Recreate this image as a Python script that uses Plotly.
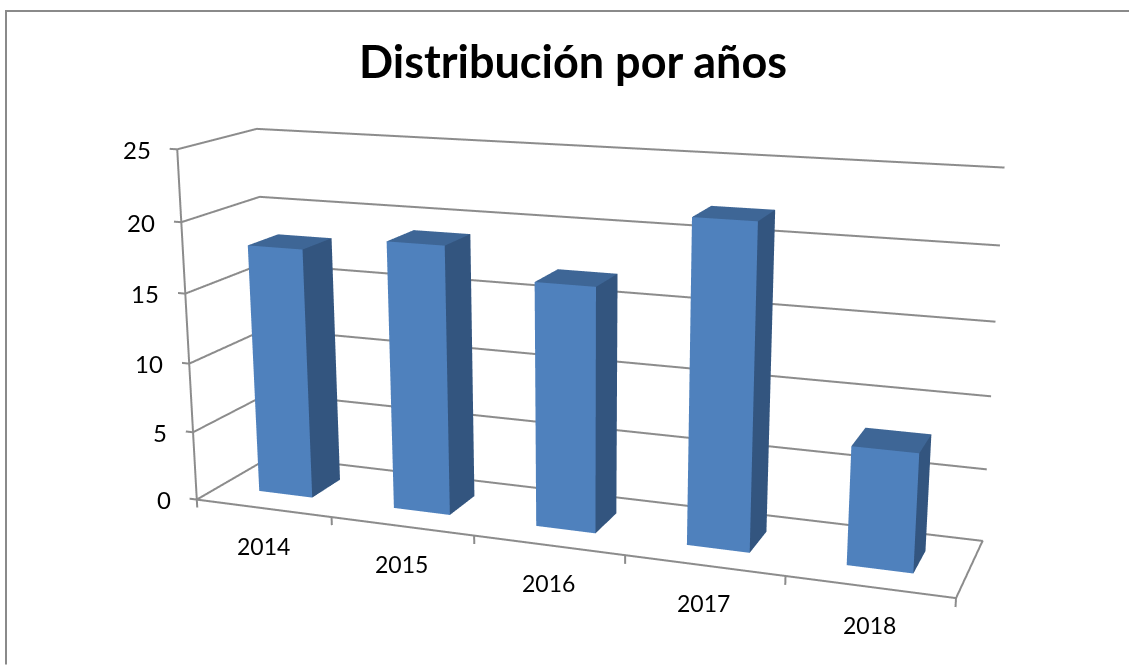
import plotly.graph_objects as go

# --- data ---
years = ["2014", "2015", "2016", "2017", "2018"]
counts = [18, 19, 17, 22, 8]
z_ticks = [0, 5, 10, 15, 20, 25]
title_text = "Distribución por años"

# --- style ---
FRONT, SIDE, TOP = "#4F81BD", "#33557F", "#3E6696"
GRID = "#8C8C8C"
FONT = "Lato"
BAR_LO, BAR_HI = 0.30, 0.70   # bar extent inside a category / depth slot
X_TICK_LEN, Z_TICK_LEN = 0.6, 0.055   # tick lengths in axis units

# Excel's 3-D view has a long lens; plotly's field of view is fixed, so the scene
# viewport is made taller than the window and the graph div is offset in the page.
FIG_W, FIG_H = 1129, 1561.3
PAGE_TOP = -409.6
def py(v):  # window pixel row -> paper fraction
    return 1 - (v - PAGE_TOP) / FIG_H
def px(v):
    return v / FIG_W

# --- bars as one mesh ---
xs, ys, zs, I, J, K, fc = [], [], [], [], [], [], []
def quad(a, b, c, d, col):
    n = len(xs)
    for p in (a, b, c, d):
        xs.append(p[0]); ys.append(p[1]); zs.append(p[2])
    I.extend([n, n]); J.extend([n + 1, n + 2]); K.extend([n + 2, n + 3]); fc.extend([col, col])
for idx, h in enumerate(counts):
    x0, x1 = idx + BAR_LO, idx + BAR_HI
    y0, y1 = BAR_LO, BAR_HI
    quad((x0, y0, 0), (x1, y0, 0), (x1, y0, h), (x0, y0, h), FRONT)
    quad((x1, y0, 0), (x1, y1, 0), (x1, y1, h), (x1, y0, h), SIDE)
    quad((x0, y0, h), (x1, y0, h), (x1, y1, h), (x0, y1, h), TOP)

fig = go.Figure()

# frame: floor outline, front-left edge, gridlines on the two walls, tick marks
n = len(years)
top = max(z_ticks)
lx, ly, lz = [0, n, n, 0, 0, None, 0, 0, None], [0, 0, 1, 1, 0, None, 0, 0, None], [0, 0, 0, 0, 0, None, 0, top, None]
for v in z_ticks[1:]:
    lx += [-Z_TICK_LEN, 0, 0, n, None]; ly += [0, 0, 1, 1, None]; lz += [v, v, v, v, None]
lx += [-Z_TICK_LEN, 0, None]; ly += [0, 0, None]; lz += [0, 0, None]
for i in range(n + 1):
    lx += [i, i, None]; ly += [0, 0, None]; lz += [0, -X_TICK_LEN, None]
fig.add_trace(go.Scatter3d(x=lx, y=ly, z=lz, mode="lines", line=dict(color=GRID, width=4),
                           hoverinfo="skip", showlegend=False))
fig.add_trace(go.Mesh3d(x=xs, y=ys, z=zs, i=I, j=J, k=K, facecolor=fc, flatshading=True,
                        lighting=dict(ambient=1, diffuse=0, specular=0, roughness=1, fresnel=0),
                        hoverinfo="skip", showscale=False))

axis_common = dict(showbackground=False, showspikes=False, zeroline=False, showline=False,
                   title="", showticklabels=False, showgrid=False, ticks="")

annotations = []
for v in z_ticks:
    annotations.append(dict(x=0, y=0, z=v, text=str(v), showarrow=False, xanchor="right",
                            xshift=-24, yshift=0, font=dict(family=FONT, size=24, color="#000000")))
for idx, yr in enumerate(years):
    annotations.append(dict(x=idx + 0.5, y=0, z=0, text=yr, showarrow=False, xanchor="center",
                            yshift=-38, font=dict(family=FONT, size=23, color="#000000")))

# the axis ranges are padded so ticks and edge lines are not clipped;
# the aspect and camera follow the padding so the 0-5 / 0-1 / 0-25 box stays in place
SX, SY, SZ = 1.0, 0.201, 0.4665
xr = [-Z_TICK_LEN, n + 0.05]
yr_ = [-0.05, 1.05]
zr = [-X_TICK_LEN, top + 0.3]
def aspect(r, nominal, s):
    return s * (r[1] - r[0]) / nominal
def shift(r, nominal, s):   # world offset of the padded box against the nominal one
    return (nominal / 2 - (r[0] + r[1]) / 2) * s / nominal
dx, dy, dz = shift(xr, n, SX), shift(yr_, 1, SY), shift(zr, top, SZ)

fig.update_layout(
    width=FIG_W, height=FIG_H, margin=dict(l=0, r=0, t=0, b=0, pad=0),
    paper_bgcolor="#FFFFFF", showlegend=False, hovermode=False,
    title=dict(text=title_text, x=px(573), y=py(63), xref="paper", yref="paper",
               xanchor="center", yanchor="middle",
               font=dict(family=FONT, size=45, color="#000000", weight="bold")),
    shapes=[
        dict(type="line", xref="paper", yref="paper", x0=px(6), x1=px(6), y0=py(10.5), y1=py(665),
             line=dict(color="#8A8A8A", width=2)),
        dict(type="line", xref="paper", yref="paper", x0=px(5), x1=px(1129), y0=py(11.5), y1=py(11.5),
             line=dict(color="#8A8A8A", width=2)),
    ],
    scene=dict(
        domain=dict(x=[0, 1120.6 / FIG_W], y=[0, 1]),
        aspectmode="manual",
        aspectratio=dict(x=aspect(xr, n, SX), y=aspect(yr_, 1, SY), z=aspect(zr, top, SZ)),
        camera=dict(eye=dict(x=0.791 + dx, y=-2.1455 + dy, z=0.5807 + dz),
                    center=dict(x=-0.0159 + dx, y=-0.015 + dy, z=-0.0327 + dz),
                    up=dict(x=-0.0894, y=0.2442, z=0.9656),
                    projection=dict(type="perspective")),
        xaxis=dict(range=xr, **axis_common),
        yaxis=dict(range=yr_, **axis_common),
        zaxis=dict(range=zr, **axis_common),
        annotations=annotations,
    ),
)

post = f"""
document.documentElement.style.overflow='hidden';
document.body.style.overflow='hidden';
document.body.style.margin='0';
var g=document.getElementById('{{plot_id}}');
g.style.position='absolute';g.style.left='0';g.style.top='{PAGE_TOP}px';
"""
fig.write_html("out.html", post_script=post)
